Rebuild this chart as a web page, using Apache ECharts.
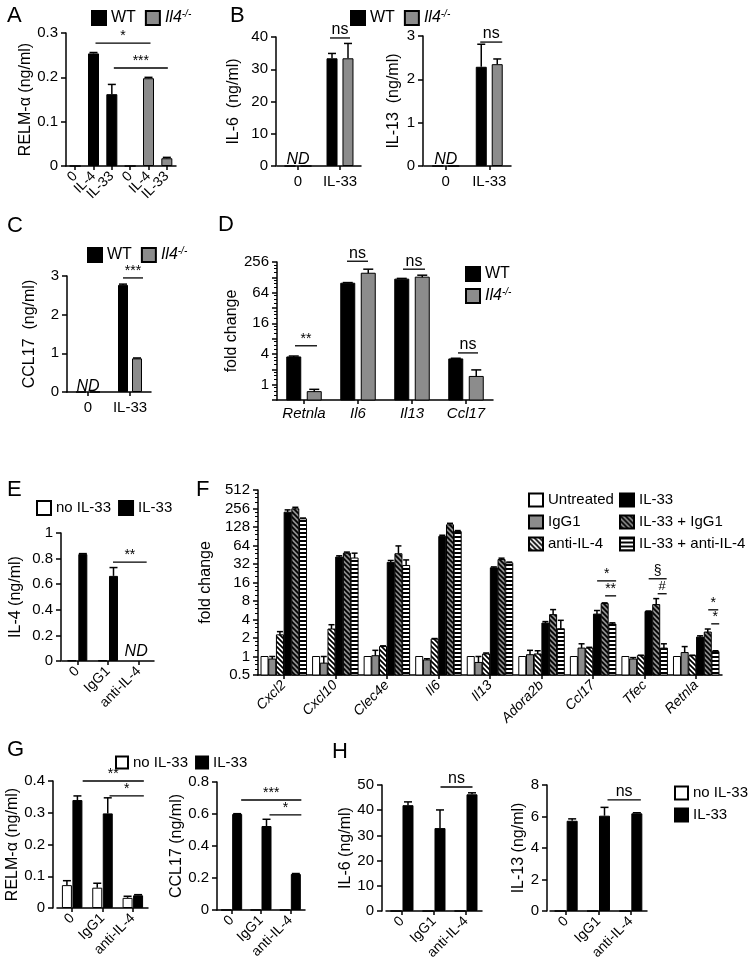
<!DOCTYPE html>
<html><head><meta charset="utf-8">
<script src="https://cdn.jsdelivr.net/npm/echarts@6/dist/echarts.min.js"></script>
<style>html,body{margin:0;padding:0;background:#fff}#c{width:751px;height:974px}</style>
</head><body><div id="c"></div>
<script>
// ================= DATA =================
// Panel A
const aCats = ['0', 'IL-4', 'IL-33', '0', 'IL-4', 'IL-33'];
const aWT = [0, 0.254, 0.162, '-', '-', '-'];
const aWTErr = [0, 0.002, 0.022, 0, 0, 0];
const aKO = ['-', '-', '-', 0, 0.198, 0.0175];
const aKOErr = [0, 0, 0, 0, 0.002, 0.002];
// Panel B
const bCats = ['0', 'IL-33'];
const b6WT = [0, 33.4], b6WTErr = [0, 1.5];
const b6KO = [0, 33.4], b6KOErr = [0, 4.6];
const b13WT = [0, 2.29], b13WTErr = [0, 0.52];
const b13KO = [0, 2.35], b13KOErr = [0, 0.12];
// Panel C
const cCats = ['0', 'IL-33'];
const cWT = [0, 2.77], cWTErr = [0, 0.02];
const cKO = [0, 0.87], cKOErr = [0, 0.01];
// Panel D
const dCats = ['Retnla', 'Il6', 'Il13', 'Ccl17'];
const dWT = [3.5, 98, 118, 3.2], dWTErr = [0.15, 3, 4, 0.1];
const dKO = [0.73, 154, 129, 1.45], dKOErr = [0.08, 31, 12, 0.5];
const dTicksShown = [1, 4, 16, 64, 256];
// Panel E
const eCats = ['0', 'IgG1', 'anti-IL-4'];
const eNo = [0.004, 0.004, '-'];
const eIL33 = [0.835, 0.665, '-'], eIL33Err = [0.004, 0.065, 0];
// Panel F
const fCats = ['Cxcl2', 'Cxcl10', 'Clec4e', 'Il6', 'Il13', 'Adora2b', 'Ccl17', 'Tfec', 'Retnla'];
const fUntreated = [1, 1, 1, 1, 1, 1, 1, 1, 1];
const fIgG1 = [0.91, 0.78, 1.03, 0.88, 0.80, 1.07, 1.37, 0.91, 1.16];
const fIgG1Err = [0.09, 0.22, 0.23, 0.04, 0.2, 0.19, 0.24, 0.05, 0.29];
const fAnti = [2.25, 2.8, 1.45, 1.92, 1.1, 1.1, 1.37, 1.03, 1.03];
const fAntiErr = [0.29, 0.49, 0.04, 0.04, 0.04, 0.14, 0.04, 0.02, 0.02];
const fIL33 = [223, 41.5, 34, 90, 27.7, 3.5, 4.9, 5.4, 2.07];
const fIL33Err = [20, 2, 2.5, 4, 1, 0.2, 0.7, 0.1, 0.1];
const fIL33IgG1 = [253, 48, 47, 139, 37.8, 4.8, 7.26, 7.0, 2.5];
const fIL33IgG1Err = [15, 2, 16, 8, 2, 1, 0.2, 1.75, 0.3];
const fIL33Anti = [174, 40, 30.3, 108, 33.4, 2.83, 3.38, 1.37, 1.2];
const fIL33AntiErr = [5, 8, 7, 4, 1, 1.05, 0.15, 0.24, 0.04];
// Panel G
const gCats = ['0', 'IgG1', 'anti-IL-4'];
const g1No = [0.072, 0.064, 0.032], g1NoErr = [0.014, 0.014, 0.005];
const g1IL33 = [0.34, 0.298, 0.04], g1IL33Err = [0.013, 0.049, 0.002];
const g2No = [0, 0, 0];
const g2IL33 = [0.6, 0.525, 0.225], g2IL33Err = [0.002, 0.042, 0.003];
// Panel H
const h1No = [0, 0, 0];
const h1IL33 = [42, 32.9, 46.3], h1IL33Err = [1.3, 7.2, 0.6];
const h2No = [0, 0, 0];
const h2IL33 = [5.73, 6.05, 6.2], h2IL33Err = [0.12, 0.53, 0.04];

// ================= STYLE / HELPERS =================
const FONT = '"Liberation Sans", Arial, Helvetica, sans-serif';
const GRAY = '#8c8c8c';
const LW = 1.5;

function pattern(bg, kind) {
  const c = document.createElement('canvas');
  const s = kind === 'h' ? 4 : 5;
  c.width = s; c.height = s;
  const g = c.getContext('2d');
  g.fillStyle = bg; g.fillRect(0, 0, s, s);
  g.fillStyle = '#000'; g.strokeStyle = '#000';
  if (kind === 'h') { g.fillRect(0, 0, s, 2); }
  else {
    g.lineWidth = 1.7; g.beginPath();
    for (let k = -1; k <= 1; k++) { g.moveTo(-1, k * s - 1); g.lineTo(s + 1, s + k * s + 1); }
    g.stroke();
  }
  return { image: c, repeat: 'repeat' };
}
const PAT_ANTI = pattern('#fff', 'd');
const PAT_IGG = pattern(GRAY, 'd');
const PAT_H = pattern('#fff', 'h');

const grids = [], xAxis = [], yAxis = [], series = [];

function addPanel(c) {
  const gi = grids.length;
  grids.push({ left: c.left, top: c.top, width: c.width, height: c.height });
  xAxis.push({
    type: 'category', gridIndex: gi, data: c.cats,
    axisLine: { lineStyle: { color: '#000', width: LW } },
    axisTick: { show: true, alignWithLabel: true, length: 4, lineStyle: { color: '#000', width: LW } },
    axisLabel: { interval: 0, color: '#000', fontFamily: FONT, fontSize: c.xfs || 15, rotate: c.rot || 0,
      fontStyle: c.xit ? 'italic' : 'normal', margin: c.xm || 8 },
    splitLine: { show: false }
  });
  const y = {
    type: c.log ? 'log' : 'value', gridIndex: gi, min: c.min, max: c.max, offset: c.yoff || 0,
    name: c.yname, nameLocation: 'middle', nameRotate: 90, nameGap: c.ng,
    nameTextStyle: { color: '#000', fontFamily: FONT, fontSize: 16 },
    axisLine: { show: true, lineStyle: { color: '#000', width: LW } },
    axisTick: { show: true, length: 5, lineStyle: { color: '#000', width: LW } },
    axisLabel: { color: '#000', fontFamily: FONT, fontSize: c.yfs || 15, margin: 8 },
    splitLine: { show: false }
  };
  if (c.yfmt) y.axisLabel.formatter = c.yfmt;
  if (c.log) {
    y.logBase = 2; y.interval = 1; y.splitNumber = c.split;
    y.minorTick = { show: true, splitNumber: 4, length: 3, lineStyle: { color: '#000', width: 1 } };
  } else y.interval = c.interval;
  yAxis.push(y);
  return gi;
}

function barS(gi, name, data, color, bw, gap) {
  series.push({ type: 'bar', name, xAxisIndex: gi, yAxisIndex: gi, data, barWidth: bw, barGap: gap, silent: true,
    itemStyle: { color, borderColor: '#000', borderWidth: 1 } });
}

function logBarS(gi, name, vals, color, off, bw, base) {
  series.push({ type: 'custom', name, xAxisIndex: gi, yAxisIndex: gi, silent: true, z: 2,
    itemStyle: { color, borderColor: '#000', borderWidth: 1 },
    data: vals.map((v, i) => [i, v]), encode: { x: 0, y: 1 },
    renderItem: (p, api) => {
      const t = api.coord([api.value(0), api.value(1)]);
      const b = api.coord([api.value(0), base]);
      return { type: 'rect', shape: { x: t[0] + off - bw / 2, y: t[1], width: bw, height: b[1] - t[1] },
        style: { fill: color, stroke: '#000', lineWidth: 1 } };
    } });
}

function errS(gi, vals, errs, off, cap) {
  const d = [];
  vals.forEach((v, i) => { if (typeof v === 'number' && errs[i] > 0) d.push([i, v, v + errs[i]]); });
  series.push({ type: 'custom', xAxisIndex: gi, yAxisIndex: gi, silent: true, z: 4, data: d,
    encode: { x: 0, y: [1, 2] },
    renderItem: (p, api) => {
      const a = api.coord([api.value(0), api.value(1)]);
      const b = api.coord([api.value(0), api.value(2)]);
      const x = a[0] + off;
      return { type: 'group', children: [
        { type: 'line', shape: { x1: x, y1: a[1], x2: x, y2: b[1] }, style: { stroke: '#000', lineWidth: LW } },
        { type: 'line', shape: { x1: x - cap, y1: b[1], x2: x + cap, y2: b[1] }, style: { stroke: '#000', lineWidth: LW } }
      ] };
    } });
}

function sigS(gi, items) {
  series.push({ type: 'custom', xAxisIndex: gi, yAxisIndex: gi, silent: true, z: 6, clip: false,
    data: items.map(d => [d.x1, d.y, d.x2 === undefined ? d.x1 : d.x2]),
    encode: { x: [0, 2], y: 1 },
    renderItem: (p, api) => {
      const d = items[p.dataIndex];
      const x2 = d.x2 === undefined ? d.x1 : d.x2;
      const p1 = api.coord([d.x1, d.y]), p2 = api.coord([x2, d.y]);
      const xa = p1[0] + (d.o1 || 0), xb = p2[0] + (d.o2 || 0), y = p1[1];
      const ch = [];
      if (d.line !== false) ch.push({ type: 'line', shape: { x1: xa, y1: y, x2: xb, y2: y }, style: { stroke: '#000', lineWidth: 1.3 } });
      const fs = d.fs || (d.t === 'ns' || d.t === 'ND' ? 16 : 14);
      ch.push({ type: 'text', style: {
        text: d.t, x: (xa + xb) / 2, y: d.line === false ? y : y - (d.dy === undefined ? 0 : d.dy),
        align: 'center', verticalAlign: d.line === false ? 'middle' : 'bottom',
        font: (d.italic ? 'italic ' : '') + fs + 'px ' + FONT, fill: '#000' } });
      return { type: 'group', children: ch };
    } });
}

// ================= PANELS =================
// A
const A = addPanel({ left: 66, top: 33, width: 110, height: 133, cats: aCats, rot: 45, xfs: 14,
  min: 0, max: 0.3, interval: 0.1, yname: 'RELM-α (ng/ml)', ng: 31 });
barS(A, 'WT', aWT, '#000', 11, '-100%');
barS(A, 'Il4-/-', aKO, GRAY, 11, '-100%');
errS(A, aWT, aWTErr, 0, 4); errS(A, aKO, aKOErr, 0, 4);
sigS(A, [{ x1: 1, o1: 2, x2: 4, o2: 2, y: 0.277, t: '*' }, { x1: 2, o1: 2, x2: 5, o2: 1, y: 0.221, t: '***' }]);

// B1 IL-6
const B1 = addPanel({ left: 277, top: 37, width: 84, height: 129, cats: bCats, yoff: 1,
  min: 0, max: 40, interval: 10, yname: 'IL-6  (ng/ml)', ng: 34 });
barS(B1, 'WT', b6WT, '#000', 11, '45%');
barS(B1, 'Il4-/-', b6KO, GRAY, 11, '45%');
errS(B1, b6WT, b6WTErr, -8, 4); errS(B1, b6KO, b6KOErr, 8, 4);
sigS(B1, [{ x1: 1, o1: -10, o2: 10, y: 39.7, t: 'ns' }, { x1: 0, y: 1.9, t: 'ND', line: false, italic: true }]);

// B2 IL-13
const B2 = addPanel({ left: 424, top: 36, width: 87, height: 130, cats: bCats, yoff: 1,
  min: 0, max: 3, interval: 1, yname: 'IL-13  (ng/ml)', ng: 21 });
barS(B2, 'WT', b13WT, '#000', 11, '45%');
barS(B2, 'Il4-/-', b13KO, GRAY, 11, '45%');
errS(B2, b13WT, b13WTErr, -8, 4); errS(B2, b13KO, b13KOErr, 8, 4);
sigS(B2, [{ x1: 1, o1: -9, o2: 13, y: 2.86, t: 'ns' }, { x1: 0, y: 0.14, t: 'ND', line: false, italic: true }]);

// C
const C = addPanel({ left: 67, top: 276, width: 84, height: 116, cats: cCats,
  min: 0, max: 3, interval: 1, yname: 'CCL17  (ng/ml)', ng: 29 });
barS(C, 'WT', cWT, '#000', 10, '40%');
barS(C, 'Il4-/-', cKO, GRAY, 10, '40%');
errS(C, cWT, cWTErr, -7, 4); errS(C, cKO, cKOErr, 7, 4);
sigS(C, [{ x1: 1, o1: -7, o2: 13, y: 2.95, t: '***' }, { x1: 0, y: 0.15, t: 'ND', line: false, italic: true }]);

// D
const D = addPanel({ left: 277, top: 262, width: 216, height: 138, cats: dCats, xit: true, xfs: 15, xm: 6,
  log: true, min: 0.5, max: 256, split: 9, yname: 'fold change', ng: 34,
  yfmt: v => dTicksShown.indexOf(Math.round(v)) >= 0 && v >= 1 ? String(Math.round(v)) : '' });
logBarS(D, 'WT', dWT, '#000', -10.25, 14, 0.5);
logBarS(D, 'Il4-/-', dKO, GRAY, 10.25, 14, 0.5);
errS(D, dWT, dWTErr, -10.25, 5); errS(D, dKO, dKOErr, 10.25, 5);
sigS(D, [{ x1: 0, o1: -9, o2: 13, y: 5.8, t: '**' }, { x1: 1, o1: -11, o2: 10, y: 265, t: 'ns' },
  { x1: 2, o1: -9, o2: 13, y: 185, t: 'ns' }, { x1: 3, o1: -8, o2: 12, y: 4.2, t: 'ns' }]);

// E
const E = addPanel({ left: 62, top: 533, width: 92, height: 128, cats: eCats, rot: 45, xfs: 14, yoff: 1,
  min: 0, max: 1, interval: 0.2, yname: 'IL-4 (ng/ml)', ng: 37 });
barS(E, 'no IL-33', eNo, '#fff', 9, '22%');
barS(E, 'IL-33', eIL33, '#000', 9, '22%');
errS(E, eIL33, eIL33Err, 5.5, 4);
sigS(E, [{ x1: 1, o1: 5, x2: 2, o2: 8, y: 0.773, t: '**' }, { x1: 2, o1: -5, y: 0.07, t: 'ND', line: false, italic: true }]);

// F
const F = addPanel({ left: 258, top: 490, width: 464, height: 185, cats: fCats, rot: 45, xit: true, xfs: 14,
  log: true, min: 0.5, max: 512, split: 10, yname: 'fold change', ng: 43, yfs: 15 });
const fSeries = [
  ['Untreated', fUntreated, null, '#fff'],
  ['IgG1', fIgG1, fIgG1Err, GRAY],
  ['anti-IL-4', fAnti, fAntiErr, PAT_ANTI],
  ['IL-33', fIL33, fIL33Err, '#000'],
  ['IL-33 + IgG1', fIL33IgG1, fIL33IgG1Err, PAT_IGG],
  ['IL-33 + anti-IL-4', fIL33Anti, fIL33AntiErr, PAT_H]
];
fSeries.forEach((s, i) => {
  const off = (i - 2.5) * 7.7;
  logBarS(F, s[0], s[1], s[3], off, 7, 0.5);
  if (s[2]) errS(F, s[1], s[2], off, 3);
});
sigS(F, [
  { x1: 6, o1: 4, o2: 23, y: 17, t: '*' }, { x1: 6, o1: 12, o2: 23, y: 9.7, t: '**' },
  { x1: 7, o1: 4, o2: 22, y: 18.4, t: '§', fs: 14, dy: 1 }, { x1: 7, o1: 13, o2: 22, y: 10.5, t: '#', fs: 13, dy: 1 },
  { x1: 8, o1: 12, o2: 22, y: 5.75, t: '*' }, { x1: 8, o1: 15, o2: 23, y: 3.4, t: '*' }
]);

// G1
const G1 = addPanel({ left: 57, top: 781, width: 91, height: 127, cats: gCats, rot: 45, xfs: 14, yoff: 4,
  min: 0, max: 0.4, interval: 0.1, yname: 'RELM-α (ng/ml)', ng: 32 });
barS(G1, 'no IL-33', g1No, '#fff', 10, '5%');
barS(G1, 'IL-33', g1IL33, '#000', 10, '5%');
errS(G1, g1No, g1NoErr, -5.25, 4); errS(G1, g1IL33, g1IL33Err, 5.25, 4);
sigS(G1, [{ x1: 0, o1: 10.5, x2: 2, o2: 11, y: 0.4, t: '**' }, { x1: 1, o1: 7, x2: 2, o2: 11, y: 0.353, t: '*' }]);

// G2
const G2 = addPanel({ left: 217, top: 782, width: 88, height: 128, cats: gCats, rot: 45, xfs: 14,
  min: 0, max: 0.8, interval: 0.2, yname: 'CCL17 (ng/ml)', ng: 31 });
barS(G2, 'no IL-33', g2No, '#fff', 10, '10%');
barS(G2, 'IL-33', g2IL33, '#000', 10, '10%');
errS(G2, g2IL33, g2IL33Err, 5.5, 4);
sigS(G2, [{ x1: 0, o1: 9.5, x2: 2, o2: 11, y: 0.6875, t: '***' }, { x1: 1, o1: 8.5, x2: 2, o2: 11, y: 0.594, t: '*' }]);

// H1
const H1 = addPanel({ left: 386, top: 785, width: 96, height: 126, cats: gCats, rot: 45, xfs: 14, yoff: 4,
  min: 0, max: 50, interval: 10, yname: 'IL-6 (ng/ml)', ng: 26 });
barS(H1, 'no IL-33', h1No, '#fff', 11, '9%');
barS(H1, 'IL-33', h1IL33, '#000', 11, '9%');
errS(H1, h1IL33, h1IL33Err, 6, 4);
sigS(H1, [{ x1: 1, o1: 6.5, x2: 2, o2: 6.5, y: 49.2, t: 'ns' }]);

// H2
const H2 = addPanel({ left: 550, top: 785, width: 97, height: 126, cats: gCats, rot: 45, xfs: 14, yoff: 3,
  min: 0, max: 8, interval: 2, yname: 'IL-13 (ng/ml)', ng: 19 });
barS(H2, 'no IL-33', h2No, '#fff', 11, '9%');
barS(H2, 'IL-33', h2IL33, '#000', 11, '9%');
errS(H2, h2IL33, h2IL33Err, 6, 4);
sigS(H2, [{ x1: 1, o1: 9, x2: 2, o2: 10, y: 7.05, t: 'ns' }]);

// ================= LEGENDS =================
const rich = {
  i: { fontStyle: 'italic', fontSize: 16, fontFamily: FONT, color: '#000', lineHeight: 18 },
  s: { fontStyle: 'italic', fontSize: 10, fontFamily: FONT, color: '#000', verticalAlign: 'top', lineHeight: 10 }
};
function leg(o) {
  return Object.assign({
    selectedMode: false, icon: 'rect', itemWidth: 14, itemHeight: 14, itemGap: 9, padding: 0,
    textStyle: { fontFamily: FONT, fontSize: o.fs || 16, color: '#000', rich, lineHeight: o.lh },
    formatter: n => n === 'Il4-/-' ? '{i|Il4}{s|-/-}' : n
  }, o);
}
const legends = [
  leg({ left: 91, top: 9, data: ['WT', 'Il4-/-'] }),
  leg({ left: 350, top: 9, data: ['WT', 'Il4-/-'] }),
  leg({ left: 87, top: 246, data: ['WT', 'Il4-/-'] }),
  leg({ left: 465, top: 266, orient: 'vertical', itemGap: 5, data: ['WT', 'Il4-/-'] }),
  leg({ left: 36, top: 500, fs: 15, itemGap: 7, data: ['no IL-33', 'IL-33'] }),
  leg({ left: 528, top: 492, fs: 15, lh: 16, orient: 'vertical', itemGap: 6, itemHeight: 13, data: ['Untreated', 'IgG1', 'anti-IL-4'] }),
  leg({ left: 619, top: 492, fs: 15, lh: 16, orient: 'vertical', itemGap: 6, itemHeight: 13, data: ['IL-33', 'IL-33 + IgG1', 'IL-33 + anti-IL-4'] }),
  leg({ left: 115, top: 755, fs: 15, itemWidth: 12, itemHeight: 12, itemGap: 7, data: ['no IL-33', 'IL-33'] }),
  leg({ left: 674, top: 785, fs: 15, lh: 16, orient: 'vertical', itemGap: 6, itemWidth: 13, itemHeight: 13, data: ['no IL-33', 'IL-33'] })
];

// ================= LETTERS =================
const letters = [['A', 7, 5], ['B', 230, 5], ['C', 7, 215], ['D', 218, 214], ['E', 7, 479], ['F', 196, 479], ['G', 7, 739], ['H', 332, 741]];

const chart = echarts.init(document.getElementById('c'), null, { renderer: 'canvas', width: 751, height: 974 });
chart.setOption({
  backgroundColor: '#fff',
  animation: false,
  grid: grids, xAxis, yAxis, series, legend: legends,
  graphic: letters.map(([t, x, y]) => ({ type: 'text', left: x, top: y, silent: true,
    style: { text: t, font: '22px ' + FONT, fill: '#000' } }))
});
</script></body></html>
